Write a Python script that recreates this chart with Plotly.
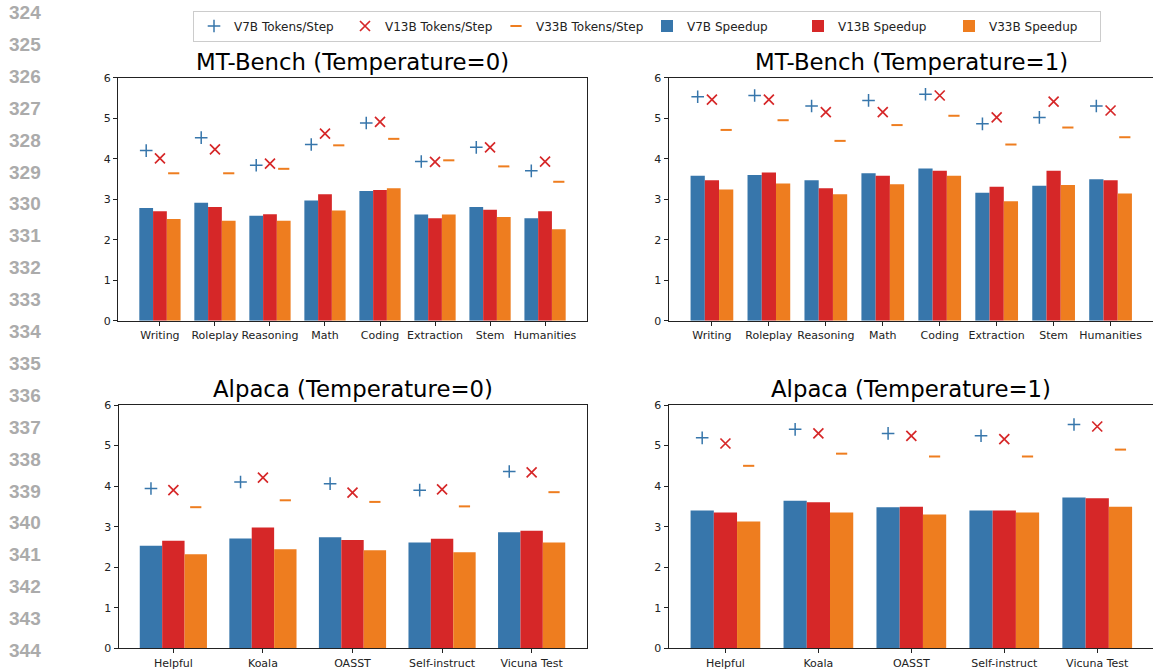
import plotly.graph_objects as go

# Reference pixel (X, Y) maps to figure (X-OX, Y-OY); body margin is removed by post_script.
OX, OY = 0, 0
W, H = 1153, 670

# ---------------- data ----------------
mt_categories = ["Writing", "Roleplay", "Reasoning", "Math", "Coding", "Extraction", "Stem", "Humanities"]
alpaca_categories = ["Helpful", "Koala", "OASST", "Self-instruct", "Vicuna Test"]

# MT-Bench, temperature 0
mt0_v7b_tokens = [4.20, 4.52, 3.84, 4.35, 4.88, 3.93, 4.28, 3.70]
mt0_v13b_tokens = [4.01, 4.23, 3.88, 4.62, 4.91, 3.92, 4.28, 3.93]
mt0_v33b_tokens = [3.64, 3.64, 3.75, 4.33, 4.49, 3.96, 3.81, 3.43]
mt0_v7b_speedup = [2.78, 2.91, 2.59, 2.97, 3.20, 2.62, 2.81, 2.53]
mt0_v13b_speedup = [2.70, 2.81, 2.63, 3.12, 3.23, 2.53, 2.74, 2.70]
mt0_v33b_speedup = [2.51, 2.47, 2.47, 2.72, 3.27, 2.62, 2.56, 2.26]

# MT-Bench, temperature 1
mt1_v7b_tokens = [5.53, 5.56, 5.30, 5.44, 5.59, 4.86, 5.02, 5.30]
mt1_v13b_tokens = [5.46, 5.46, 5.15, 5.15, 5.56, 5.02, 5.41, 5.19]
mt1_v33b_tokens = [4.71, 4.95, 4.44, 4.83, 5.06, 4.35, 4.77, 4.53]
mt1_v7b_speedup = [3.58, 3.60, 3.47, 3.64, 3.76, 3.16, 3.33, 3.49]
mt1_v13b_speedup = [3.47, 3.66, 3.27, 3.58, 3.70, 3.31, 3.70, 3.47]
mt1_v33b_speedup = [3.24, 3.39, 3.12, 3.37, 3.58, 2.95, 3.35, 3.14]

# Alpaca, temperature 0
al0_v7b_tokens = [3.94, 4.10, 4.06, 3.90, 4.36]
al0_v13b_tokens = [3.90, 4.21, 3.84, 3.92, 4.34]
al0_v33b_tokens = [3.48, 3.65, 3.61, 3.50, 3.85]
al0_v7b_speedup = [2.53, 2.71, 2.74, 2.61, 2.86]
al0_v13b_speedup = [2.65, 2.98, 2.67, 2.70, 2.90]
al0_v33b_speedup = [2.32, 2.44, 2.42, 2.37, 2.61]

# Alpaca, temperature 1
al1_v7b_tokens = [5.19, 5.40, 5.30, 5.24, 5.52]
al1_v13b_tokens = [5.05, 5.30, 5.24, 5.16, 5.47]
al1_v33b_tokens = [4.50, 4.80, 4.73, 4.73, 4.90]
al1_v7b_speedup = [3.40, 3.64, 3.48, 3.40, 3.72]
al1_v13b_speedup = [3.35, 3.60, 3.49, 3.40, 3.70]
al1_v33b_speedup = [3.13, 3.35, 3.30, 3.35, 3.49]

titles = ["MT-Bench (Temperature=0)", "MT-Bench (Temperature=1)",
          "Alpaca (Temperature=0)", "Alpaca (Temperature=1)"]
y_ticks = [0, 1, 2, 3, 4, 5, 6]
line_numbers = list(range(324, 345))

# ---------------- style ----------------
BLUE = "#3776AB"
RED = "#D62728"
ORANGE = "#EE7D1F"
FONT = "DejaVu Sans"
BAR_W = 0.25


def fx(X):
    return (X - OX) / W


def fy(Y):
    return 1 - (Y - OY) / H


panels = [
    dict(cats=mt_categories, tok=(mt0_v7b_tokens, mt0_v13b_tokens, mt0_v33b_tokens),
         spd=(mt0_v7b_speedup, mt0_v13b_speedup, mt0_v33b_speedup),
         xpx=(118, 587), ypx=(77.7, 320.7), rng=(-0.7625, 7.7625), right_spine=True),
    dict(cats=mt_categories, tok=(mt1_v7b_tokens, mt1_v13b_tokens, mt1_v33b_tokens),
         spd=(mt1_v7b_speedup, mt1_v13b_speedup, mt1_v33b_speedup),
         xpx=(668.5, 1153), ypx=(77.7, 320.7), rng=(-0.7625, 7.745), right_spine=False),
    dict(cats=alpaca_categories, tok=(al0_v7b_tokens, al0_v13b_tokens, al0_v33b_tokens),
         spd=(al0_v7b_speedup, al0_v13b_speedup, al0_v33b_speedup),
         xpx=(118.5, 586.5), ypx=(405, 648.3), rng=(-0.6125, 4.6125), right_spine=True),
    dict(cats=alpaca_categories, tok=(al1_v7b_tokens, al1_v13b_tokens, al1_v33b_tokens),
         spd=(al1_v7b_speedup, al1_v13b_speedup, al1_v33b_speedup),
         xpx=(668.5, 1153), ypx=(405, 648.3), rng=(-0.6125, 4.60), right_spine=False),
]

tok_names = ["V7B Tokens/Step", "V13B Tokens/Step", "V33B Tokens/Step"]
spd_names = ["V7B Speedup", "V13B Speedup", "V33B Speedup"]
colors = [BLUE, RED, ORANGE]
symbols = ["cross-thin", "x-thin", "line-ew"]
sym_sizes = [9, 10, 8]
sym_widths = [1.5, 1.7, 2.0]
offsets = [-BAR_W, 0.0, BAR_W]

fig = go.Figure()
layout = {}

for p_i, p in enumerate(panels):
    n = p_i + 1
    xa = "x" if n == 1 else f"x{n}"
    ya = "y" if n == 1 else f"y{n}"
    idx = list(range(len(p["cats"])))
    for s in range(3):
        fig.add_trace(go.Scatter(
            x=[i + offsets[s] for i in idx], y=p["tok"][s], mode="markers",
            name=tok_names[s], showlegend=(p_i == 0), legendrank=s + 1,
            marker=dict(symbol=symbols[s], size=sym_sizes[s], color=colors[s],
                        line=dict(width=sym_widths[s], color=colors[s])),
            xaxis=xa, yaxis=ya, cliponaxis=False, hoverinfo="skip"))
    for s in range(3):
        fig.add_trace(go.Bar(
            x=[i + offsets[s] for i in idx], y=p["spd"][s], width=BAR_W,
            name=spd_names[s], showlegend=(p_i == 0), legendrank=s + 4,
            marker=dict(color=colors[s], line=dict(width=0)),
            xaxis=xa, yaxis=ya, hoverinfo="skip"))

    x0, x1 = p["xpx"]
    yt, yb = p["ypx"]
    xkey = "xaxis" if n == 1 else f"xaxis{n}"
    ykey = "yaxis" if n == 1 else f"yaxis{n}"
    layout[xkey] = dict(
        domain=[fx(x0), min(fx(x1), 1.0)], range=list(p["rng"]), anchor=ya,
        tickmode="array", tickvals=idx, ticktext=p["cats"],
        ticks="outside", ticklen=4, tickwidth=1, tickcolor="#222",
        showline=True, linecolor="#222", linewidth=1, mirror=True,
        showgrid=False, zeroline=False,
        tickfont=dict(family=FONT, size=11, color="#222"), fixedrange=True)
    layout[ykey] = dict(
        domain=[fy(yb), fy(yt)], range=[0, 6], anchor=xa,
        tickmode="array", tickvals=y_ticks, ticktext=[str(v) for v in y_ticks],
        ticks="outside", ticklen=4, tickwidth=1, tickcolor="#222",
        showline=True, linecolor="#222", linewidth=1, mirror=p["right_spine"],
        showgrid=False, zeroline=False,
        tickfont=dict(family=FONT, size=11, color="#222"), fixedrange=True)

annotations = []
title_pos = [(352.5, 62), (911, 62), (352.5, 389), (911, 389)]
for t, (cx, cy) in zip(titles, title_pos):
    annotations.append(dict(text=t, x=fx(cx), y=fy(cy), xref="paper", yref="paper",
                            xanchor="center", yanchor="middle", showarrow=False,
                            font=dict(family=FONT, size=22.8, color="#000")))
for k, num in enumerate(line_numbers):
    annotations.append(dict(text=f"<b>{num}</b>", x=fx(25), y=fy(12.5 + k * 31.9),
                            xref="paper", yref="paper", xanchor="center", yanchor="middle",
                            showarrow=False, borderpad=0,
                            font=dict(family="Liberation Sans", size=19, color="#ABABAB")))

fig.update_layout(
    width=W, height=H, margin=dict(l=0, r=0, t=0, b=0, pad=0, autoexpand=False),
    paper_bgcolor="white", plot_bgcolor="white",
    barmode="overlay", showlegend=True, hovermode=False,
    legend=dict(orientation="h", x=fx(193), y=fy(26), xanchor="left", yanchor="middle",
                bgcolor="white", bordercolor="#CCCCCC", borderwidth=1,
                font=dict(family=FONT, size=12, color="#222"),
                entrywidth=106, entrywidthmode="pixels",
                traceorder="normal", itemsizing="trace", tracegroupgap=0),
    annotations=annotations,
    **layout)

fig.write_html("out.html",
               config={"displayModeBar": False, "staticPlot": False},
               post_script="document.body.style.margin='0';document.body.style.overflow='hidden';")
